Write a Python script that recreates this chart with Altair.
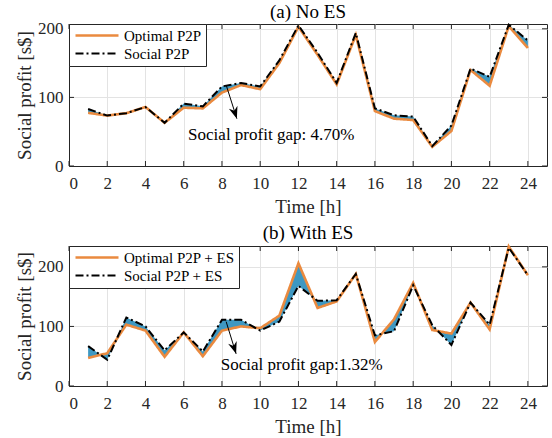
import altair as alt
import pandas as pd

# Hourly social profit [s$] for the optimal and social P2P schemes
hours = list(range(1, 25))
opt_no_es = [77.5, 73.5, 77, 86, 63, 85, 84, 107, 118, 112, 150, 203,
             162, 119, 191, 80, 69, 67, 28, 51, 140, 117, 204, 172]
soc_no_es = [83, 73.5, 77, 86, 63, 91, 87, 116, 121, 116, 154, 205,
             165, 121, 194, 84, 74, 72, 29, 59, 142, 130, 206, 183]
opt_es = [47, 55, 103, 93, 49, 90, 50, 93, 100, 97, 118, 206,
          131, 142, 188, 74, 112, 173, 94, 88, 140, 95, 234, 186]
soc_es = [67, 44, 115, 100, 60, 90, 58, 111, 111, 93, 108, 168,
          143, 144, 188, 85, 92, 169, 102, 69, 140, 103, 232, 186]

x_ticks = list(range(0, 25, 2))
y_ticks = [0, 100, 200]

ORANGE = "#EA8A3F"
BLUE = "#3E98C2"
INK = "#262626"
FONT = "Liberation Serif"
W = 478


def panel(title, opt, soc, names, ymax, height, note, note_xy, arrow_x, arrow_y):
    wide = pd.DataFrame({"t": hours, "opt": opt, "soc": soc})
    long = pd.DataFrame({
        "t": hours + hours,
        "v": opt + soc,
        "s": [names[0]] * len(hours) + [names[1]] * len(hours),
    })
    xs = alt.Scale(domain=[0, 25], nice=False, zero=False)
    ys = alt.Scale(domain=[0, ymax], nice=False)
    xa = alt.Axis(values=x_ticks, title="Time [h]", labelPadding=9, titlePadding=6,
                  labelOverlap=False, labelBound=False, tickCount=13,
                  labelFont=FONT, titleFont=FONT)
    ya = alt.Axis(values=y_ticks, title="Social profit [s$]", labelPadding=6, titlePadding=3,
                  labelOverlap=False, labelFont=FONT, titleFont=FONT)

    band = alt.Chart(wide).mark_area(color=BLUE, opacity=1).encode(
        x=alt.X("t:Q", scale=xs, axis=xa),
        y=alt.Y("opt:Q", scale=ys, axis=ya),
        y2="soc:Q",
    )

    leg = alt.Legend(title=None, labelFont=FONT)
    lines = alt.Chart(long).mark_line().encode(
        x="t:Q",
        y="v:Q",
        color=alt.Color("s:N", scale=alt.Scale(domain=names, range=[ORANGE, "black"]), legend=leg),
        strokeDash=alt.StrokeDash("s:N", scale=alt.Scale(domain=names, range=[[1, 0], [8, 3, 2, 3]]), legend=leg),
        strokeWidth=alt.StrokeWidth("s:N", scale=alt.Scale(domain=names, range=[2.6, 2.0]), legend=leg),
    )

    # inward tick marks on all four sides of the box
    xt = pd.DataFrame({"t": x_ticks})
    yt = pd.DataFrame({"v": y_ticks})
    tick_style = dict(color=INK, strokeWidth=1)
    ticks_bottom = alt.Chart(xt).mark_rule(**tick_style).encode(
        x="t:Q", y=alt.value(height), y2=alt.value(height - 5))
    ticks_top = alt.Chart(xt).mark_rule(**tick_style).encode(
        x="t:Q", y=alt.value(0), y2=alt.value(5))
    ticks_left = alt.Chart(yt).mark_rule(**tick_style).encode(
        y="v:Q", x=alt.value(0), x2=alt.value(5))
    ticks_right = alt.Chart(yt).mark_rule(**tick_style).encode(
        y="v:Q", x=alt.value(W), x2=alt.value(W - 5))

    arrow_df = pd.DataFrame({"t": arrow_x, "v": arrow_y})
    shaft = alt.Chart(arrow_df).mark_line(color="black", strokeWidth=1).encode(x="t:Q", y="v:Q")
    head = alt.Chart(arrow_df.tail(1)).mark_point(
        shape="M0,0L-0.6,-1.6L0,-1.1L0.6,-1.6Z",
        filled=True, color="black", opacity=1, size=225, angle=342,
    ).encode(x="t:Q", y="v:Q")

    note_df = pd.DataFrame({"t": [note_xy[0]], "v": [note_xy[1]], "label": [note]})
    text = alt.Chart(note_df).mark_text(
        align="left", baseline="middle", font=FONT, fontSize=17, color="black"
    ).encode(x="t:Q", y="v:Q", text="label:N")

    return alt.layer(
        band, lines, ticks_bottom, ticks_top, ticks_left, ticks_right, shaft, head, text
    ).properties(
        width=W,
        height=height,
        title=alt.TitleParams(title, font=FONT, fontSize=19, fontWeight="normal",
                              color="black", offset=-2),
    )


top = panel("(a) No ES", opt_no_es, soc_no_es, ["Optimal P2P", "Social P2P"],
            207, 142, "Social profit gap: 4.70%", (6.23, 45), [8.22, 8.78], [118, 69])
bottom = panel("(b) With ES", opt_es, soc_es, ["Optimal P2P + ES", "Social P2P + ES"],
               235, 140, "Social profit gap:1.32%", (7.94, 35), [8.22, 8.74], [108, 54])

chart = alt.vconcat(top, bottom, spacing=6).resolve_scale(
    color="independent", strokeDash="independent", strokeWidth="independent",
    y="independent", x="independent",
).resolve_legend(
    color="independent", strokeDash="independent", strokeWidth="independent",
).properties(
    padding={"left": 14, "top": 2, "right": 4, "bottom": 2},
    background="white",
).configure(
    font=FONT,
).configure_view(
    stroke=INK, strokeWidth=1,
).configure_axis(
    domainColor=INK, domainWidth=1, ticks=False, grid=True, gridColor="#e3e3e3",
    labelFont=FONT, labelFontSize=17, labelColor=INK, labelOverlap=False,
    titleFont=FONT, titleFontSize=19, titleFontWeight="normal", titleColor=INK,
).configure_axisX(
    labelOverlap=False,
).configure_title(
    font=FONT, fontSize=19, fontWeight="normal", color="black",
).configure_legend(
    orient="top-left", offset=0, padding=4, strokeColor=INK, fillColor="white",
    cornerRadius=0, labelFont=FONT, labelFontSize=15, labelColor="black",
    symbolType="M-1,0H7.6", symbolSize=100, rowPadding=2, labelOffset=36, labelLimit=300,
)

chart.save("out.html", embed_options={"renderer": "svg", "actions": False})
